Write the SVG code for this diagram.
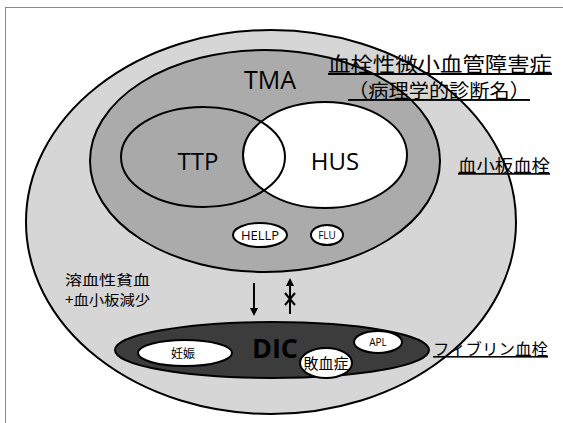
<svg xmlns="http://www.w3.org/2000/svg" width="563" height="423" viewBox="0 0 563 423">
<style>
.ln{stroke:#000;stroke-width:2;}
.t{font-family:"Noto Sans CJK JP","Liberation Sans",sans-serif;fill:#000;}
.lat{font-family:"Open Sans","Liberation Sans",sans-serif;fill:#000;}
.u{text-decoration:underline;}
</style>
<defs>
<marker id="ah" viewBox="0 0 10 10" refX="5" refY="5" markerWidth="4" markerHeight="4" orient="auto-start-reverse">
<path d="M0,0 L10,5 L0,10 z" fill="#000"/>
</marker>
</defs>
<rect width="563" height="423" fill="#fff"/>
<rect x="5.5" y="7.5" width="570" height="430" fill="none" stroke="#888" stroke-width="1"/>

<g id="outer">
<ellipse cx="271" cy="222" rx="245" ry="192" fill="#d6d6d6" class="ln"/>
</g>
<g id="tma">
<ellipse cx="265" cy="161" rx="175" ry="111" fill="#ababab" class="ln"/>
<text x="270" y="89" class="lat" font-size="25" text-anchor="middle">TMA</text>
</g>
<g id="ttp">
<ellipse cx="203" cy="157" rx="82" ry="50" fill="#a9a9a9"/>
</g>
<g id="hus">
<ellipse cx="325" cy="155" rx="82" ry="53" fill="#fff" class="ln"/>
<text x="335" y="170" class="lat" font-size="24" text-anchor="middle">HUS</text>
</g>
<g id="ttp-outline">
<ellipse cx="203" cy="157" rx="82" ry="50" fill="none" class="ln"/>
<text x="198" y="170" class="lat" font-size="24" text-anchor="middle">TTP</text>
</g>
<g id="hellp">
<ellipse cx="260" cy="235" rx="27" ry="12" fill="#fff" class="ln"/>
<text x="260" y="240" class="lat" font-size="13" text-anchor="middle">HELLP</text>
</g>
<g id="flu">
<ellipse cx="327" cy="235" rx="16" ry="10" fill="#fff" class="ln"/>
<text x="327" y="239" class="lat" font-size="10" text-anchor="middle">FLU</text>
</g>
<g id="dic">
<ellipse cx="272" cy="350" rx="157" ry="28" fill="#3c3c3c" class="ln"/>
<text x="275" y="358" class="lat" font-size="27" text-anchor="middle" font-weight="bold">DIC</text>
</g>
<g id="pregnancy">
<ellipse cx="185" cy="353" rx="47" ry="13" fill="#fff" class="ln"/>
<text x="183" y="358" class="t" font-size="12" text-anchor="middle">妊娠</text>
</g>
<g id="sepsis">
<ellipse cx="326" cy="363" rx="26" ry="15" fill="#fff" class="ln"/>
<text x="326" y="369" class="t" font-size="15" text-anchor="middle">敗血症</text>
</g>
<g id="apl">
<ellipse cx="378" cy="342" rx="24" ry="11" fill="#fff" class="ln"/>
<text x="378" y="346" class="lat" font-size="10" text-anchor="middle">APL</text>
</g>

<g id="labels">
<text x="328" y="72" class="t u" font-size="20" textLength="224" lengthAdjust="spacingAndGlyphs">血栓性微小血管障害症</text>
<text x="348" y="98" class="t u" font-size="19" textLength="182" lengthAdjust="spacingAndGlyphs">（病理学的診断名）</text>
<text x="458" y="172" class="t u" font-size="17" textLength="92" lengthAdjust="spacingAndGlyphs">血小板血栓</text>
<text x="65" y="285" class="t" font-size="14" textLength="85" lengthAdjust="spacingAndGlyphs">溶血性貧血</text>
<text x="65" y="305" class="t" font-size="14" textLength="85" lengthAdjust="spacingAndGlyphs">+血小板減少</text>
<text x="433" y="355" class="t u" font-size="16" textLength="115" lengthAdjust="spacingAndGlyphs">フィブリン血栓</text>
</g>

<g id="connectors">
<line x1="254" y1="283" x2="254" y2="312" class="ln" marker-end="url(#ah)"/>
<line x1="290" y1="314" x2="290" y2="282" class="ln" marker-end="url(#ah)"/>
<line x1="285" y1="293" x2="295" y2="305" class="ln"/>
<line x1="295" y1="293" x2="285" y2="305" class="ln"/>
</g>
</svg>
